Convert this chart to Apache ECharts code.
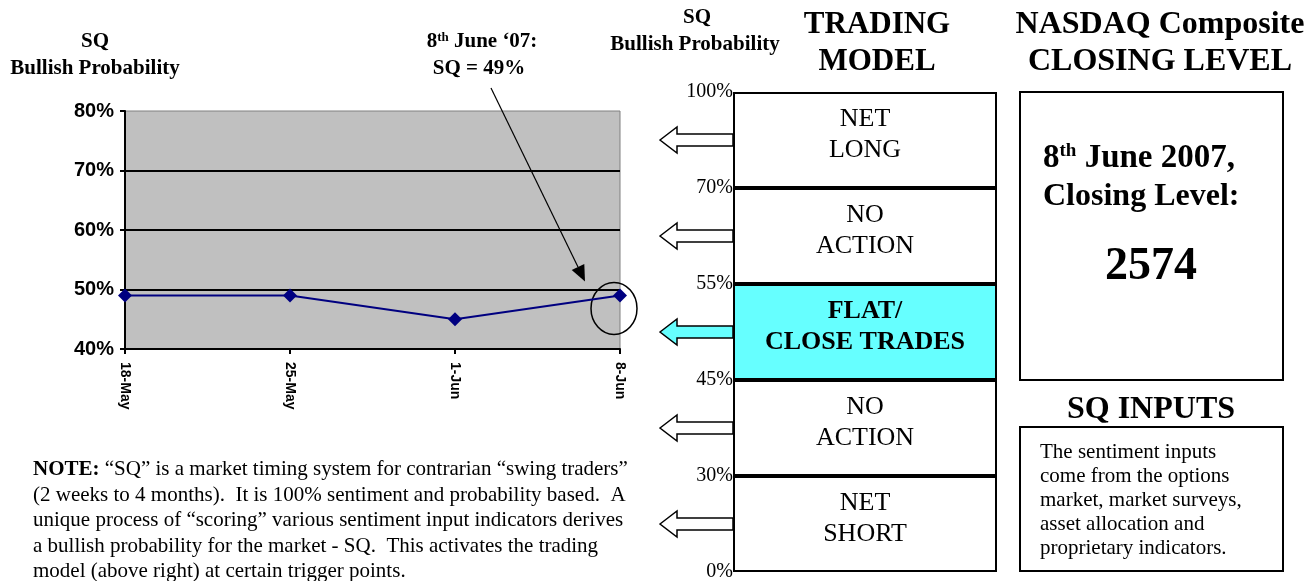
<!DOCTYPE html>
<html>
<head>
<meta charset="utf-8">
<script src="https://cdn.jsdelivr.net/npm/echarts@6/dist/echarts.min.js"></script>
<style>
html, body { margin: 0; padding: 0; background: #fff; }
#container { width: 1312px; height: 581px; }
</style>
</head>
<body>
<div id="container"></div>
<script>
// weekly SQ readings
var dates = ["18-May", "25-May", "1-Jun", "8-Jun"];
var sqValues = [49, 49, 45, 49];
var sqMin = 40, sqMax = 80, sqStep = 10;

// trading model bands, bottom to top
var levelLabels = ["0%", "30%", "45%", "55%", "70%", "100%"];
var bandNames = ["NET\nSHORT", "NO\nACTION", "FLAT/\nCLOSE TRADES", "NO\nACTION", "NET\nLONG"];
var activeBand = 2;
var closingLevel = 2574;

var serif = '"Liberation Serif", "Times New Roman", serif';
var sans = '"Liberation Sans", Arial, sans-serif';
var cyan = "#66FFFF";

var chartDom = document.getElementById("container");
var myChart = echarts.init(chartDom);

function txt(x, y, text, size, bold, align) {
  return {
    type: "text", x: x, y: y, silent: true,
    style: {
      text: text, fontSize: size, fontFamily: serif,
      fontWeight: bold ? "bold" : "normal", fill: "#000",
      align: align || "center", verticalAlign: "middle"
    }
  };
}

var bandSeries = bandNames.map(function(name, i) {
  return {
    type: "bar",
    xAxisIndex: 1,
    yAxisIndex: 1,
    stack: "model",
    barCategoryGap: "0%",
    data: [1],
    silent: true,
    itemStyle: {
      color: i === activeBand ? cyan : "#fff",
      borderColor: "#000",
      borderWidth: 2
    },
    label: {
      show: true,
      position: "inside",
      offset: [0, -5],
      formatter: name,
      fontFamily: serif,
      fontSize: 26,
      lineHeight: 31,
      fontWeight: i === activeBand ? "bold" : "normal",
      color: "#000"
    }
  };
});

var option = {
  animation: false,
  grid: [
    {
      left: 125, top: 111, width: 495, height: 238,
      show: true, backgroundColor: "#C0C0C0",
      borderColor: "#808080", borderWidth: 1,
      outerBoundsMode: "none"
    },
    {
      left: 733, top: 92, width: 264, height: 480,
      outerBoundsMode: "none"
    }
  ],
  xAxis: [
    {
      type: "category",
      gridIndex: 0,
      data: dates,
      boundaryGap: false,
      axisLine: { lineStyle: { color: "#000", width: 2 } },
      axisTick: { show: true, length: 5, lineStyle: { color: "#000", width: 2 } },
      axisLabel: {
        rotate: -90, margin: 13, color: "#000",
        fontFamily: sans, fontWeight: "bold", fontSize: 14
      },
      splitLine: { show: false }
    },
    {
      type: "category",
      gridIndex: 1,
      data: ["model"],
      show: false
    }
  ],
  yAxis: [
    {
      type: "value",
      gridIndex: 0,
      min: sqMin, max: sqMax, interval: sqStep,
      axisLine: { show: true, lineStyle: { color: "#000", width: 2 } },
      axisTick: { show: true, length: 5, lineStyle: { color: "#000", width: 2 } },
      axisLabel: {
        formatter: "{value}%", margin: 11, color: "#000",
        fontFamily: sans, fontWeight: "bold", fontSize: 20
      },
      splitLine: { show: true, showMaxLine: false, lineStyle: { color: "#000", width: 2 } }
    },
    {
      type: "value",
      gridIndex: 1,
      min: 0, max: bandNames.length, interval: 1,
      axisLine: { show: false },
      axisTick: { show: false },
      splitLine: { show: false },
      axisLabel: {
        margin: 0, color: "#000", fontFamily: serif, fontSize: 20,
        formatter: function(v) { return levelLabels[v]; }
      }
    }
  ],
  series: [
    {
      type: "line",
      xAxisIndex: 0,
      yAxisIndex: 0,
      data: sqValues,
      symbol: "diamond",
      symbolSize: 14,
      lineStyle: { color: "#000080", width: 2 },
      itemStyle: { color: "#000080" }
    }
  ].concat(bandSeries)
};

option && myChart.setOption(option);

// annotations that depend on pixel positions from the scales
var graphics = [];
var last = sqValues.length - 1;
var p = myChart.convertToPixel({ gridIndex: 0 }, [last, sqValues[last]]);

graphics.push({
  type: "ellipse", silent: true,
  shape: { cx: p[0] - 6, cy: p[1] + 13, rx: 23, ry: 26 },
  style: { fill: "none", stroke: "#000", lineWidth: 1.5 }
});
var sx = p[0] - 129, sy = 88, ex = p[0] - 35, ey = p[1] - 14;
var ang = Math.atan2(ey - sy, ex - sx);
var hl = 16, hw = 7;
var bx = ex - hl * Math.cos(ang), by = ey - hl * Math.sin(ang);
graphics.push({
  type: "line", silent: true,
  shape: { x1: sx, y1: sy, x2: bx, y2: by },
  style: { stroke: "#000", lineWidth: 1.2 }
});
graphics.push({
  type: "polygon", silent: true,
  shape: { points: [
    [ex, ey],
    [bx + hw * Math.sin(ang), by - hw * Math.cos(ang)],
    [bx - hw * Math.sin(ang), by + hw * Math.cos(ang)]
  ] },
  style: { fill: "#000" }
});

// left arrows pointing out of each band
var boxLeft = 733;
bandNames.forEach(function(name, i) {
  var cy = myChart.convertToPixel({ yAxisIndex: 1 }, i + 0.5);
  var x0 = 660;
  graphics.push({
    type: "polygon", silent: true,
    shape: { points: [
      [x0, cy], [x0 + 17, cy - 13], [x0 + 17, cy - 6], [boxLeft, cy - 6],
      [boxLeft, cy + 6], [x0 + 17, cy + 6], [x0 + 17, cy + 13]
    ] },
    style: { fill: i === activeBand ? cyan : "#fff", stroke: "#000", lineWidth: 1.5 }
  });
});

// headings
graphics.push(txt(95, 42, "SQ", 21, true));
graphics.push(txt(95, 69, "Bullish Probability", 21, true));
graphics.push({
  type: "text", x: 482, y: 42, silent: true,
  style: {
    text: "{n|8}{s|th}{n| June \u201807:}",
    align: "center", verticalAlign: "middle",
    rich: {
      n: { fontFamily: serif, fontSize: 21, fontWeight: "bold", fill: "#000" },
      s: { fontFamily: serif, fontSize: 13, fontWeight: "bold", fill: "#000", verticalAlign: "top" }
    }
  }
});
graphics.push(txt(479, 69, "SQ = 49%", 21, true));

graphics.push(txt(697, 18, "SQ", 21, true));
graphics.push(txt(695, 45, "Bullish Probability", 21, true));
graphics.push(txt(877, 25, "TRADING", 31, true));
graphics.push(txt(877, 62, "MODEL", 31, true));
graphics.push(txt(1160, 25, "NASDAQ Composite", 32, true));
graphics.push(txt(1160, 62, "CLOSING LEVEL", 32, true));

// NASDAQ box
graphics.push({
  type: "rect", silent: true,
  shape: { x: 1020, y: 92, width: 263, height: 288 },
  style: { fill: "#fff", stroke: "#000", lineWidth: 2 }
});
graphics.push({
  type: "text", x: 1043, y: 158, silent: true,
  style: {
    text: "{n|8}{s|th}{n| June 2007,}",
    align: "left", verticalAlign: "middle",
    rich: {
      n: { fontFamily: serif, fontSize: 33, fontWeight: "bold", fill: "#000" },
      s: { fontFamily: serif, fontSize: 19, fontWeight: "bold", fill: "#000", verticalAlign: "top" }
    }
  }
});
graphics.push(txt(1043, 197, "Closing Level:", 32, true, "left"));
graphics.push(txt(1151, 267, String(closingLevel), 46, true));

// SQ inputs
graphics.push(txt(1151, 410, "SQ INPUTS", 32, true));
graphics.push({
  type: "rect", silent: true,
  shape: { x: 1020, y: 427, width: 263, height: 144 },
  style: { fill: "#fff", stroke: "#000", lineWidth: 2 }
});
graphics.push({
  type: "text", x: 1040, y: 440, silent: true,
  style: {
    text: "The sentiment inputs\ncome from the options\nmarket, market surveys,\nasset allocation and\nproprietary indicators.",
    fontFamily: serif, fontSize: 21, lineHeight: 24, fill: "#000",
    align: "left", verticalAlign: "top"
  }
});

// note
graphics.push({
  type: "text", x: 33, y: 457, silent: true,
  style: {
    text: "{b|NOTE:} \u201cSQ\u201d is a market timing system for contrarian \u201cswing traders\u201d\n" +
      "(2 weeks to 4 months).  It is 100% sentiment and probability based.  A\n" +
      "unique process of \u201cscoring\u201d various sentiment input indicators derives\n" +
      "a bullish probability for the market - SQ.  This activates the trading\n" +
      "model (above right) at certain trigger points.",
    fontFamily: serif, fontSize: 21, lineHeight: 25.5, fill: "#000",
    align: "left", verticalAlign: "top",
    rich: { b: { fontFamily: serif, fontSize: 21, fontWeight: "bold", fill: "#000" } }
  }
});

myChart.setOption({ graphic: graphics });
</script>
</body>
</html>
